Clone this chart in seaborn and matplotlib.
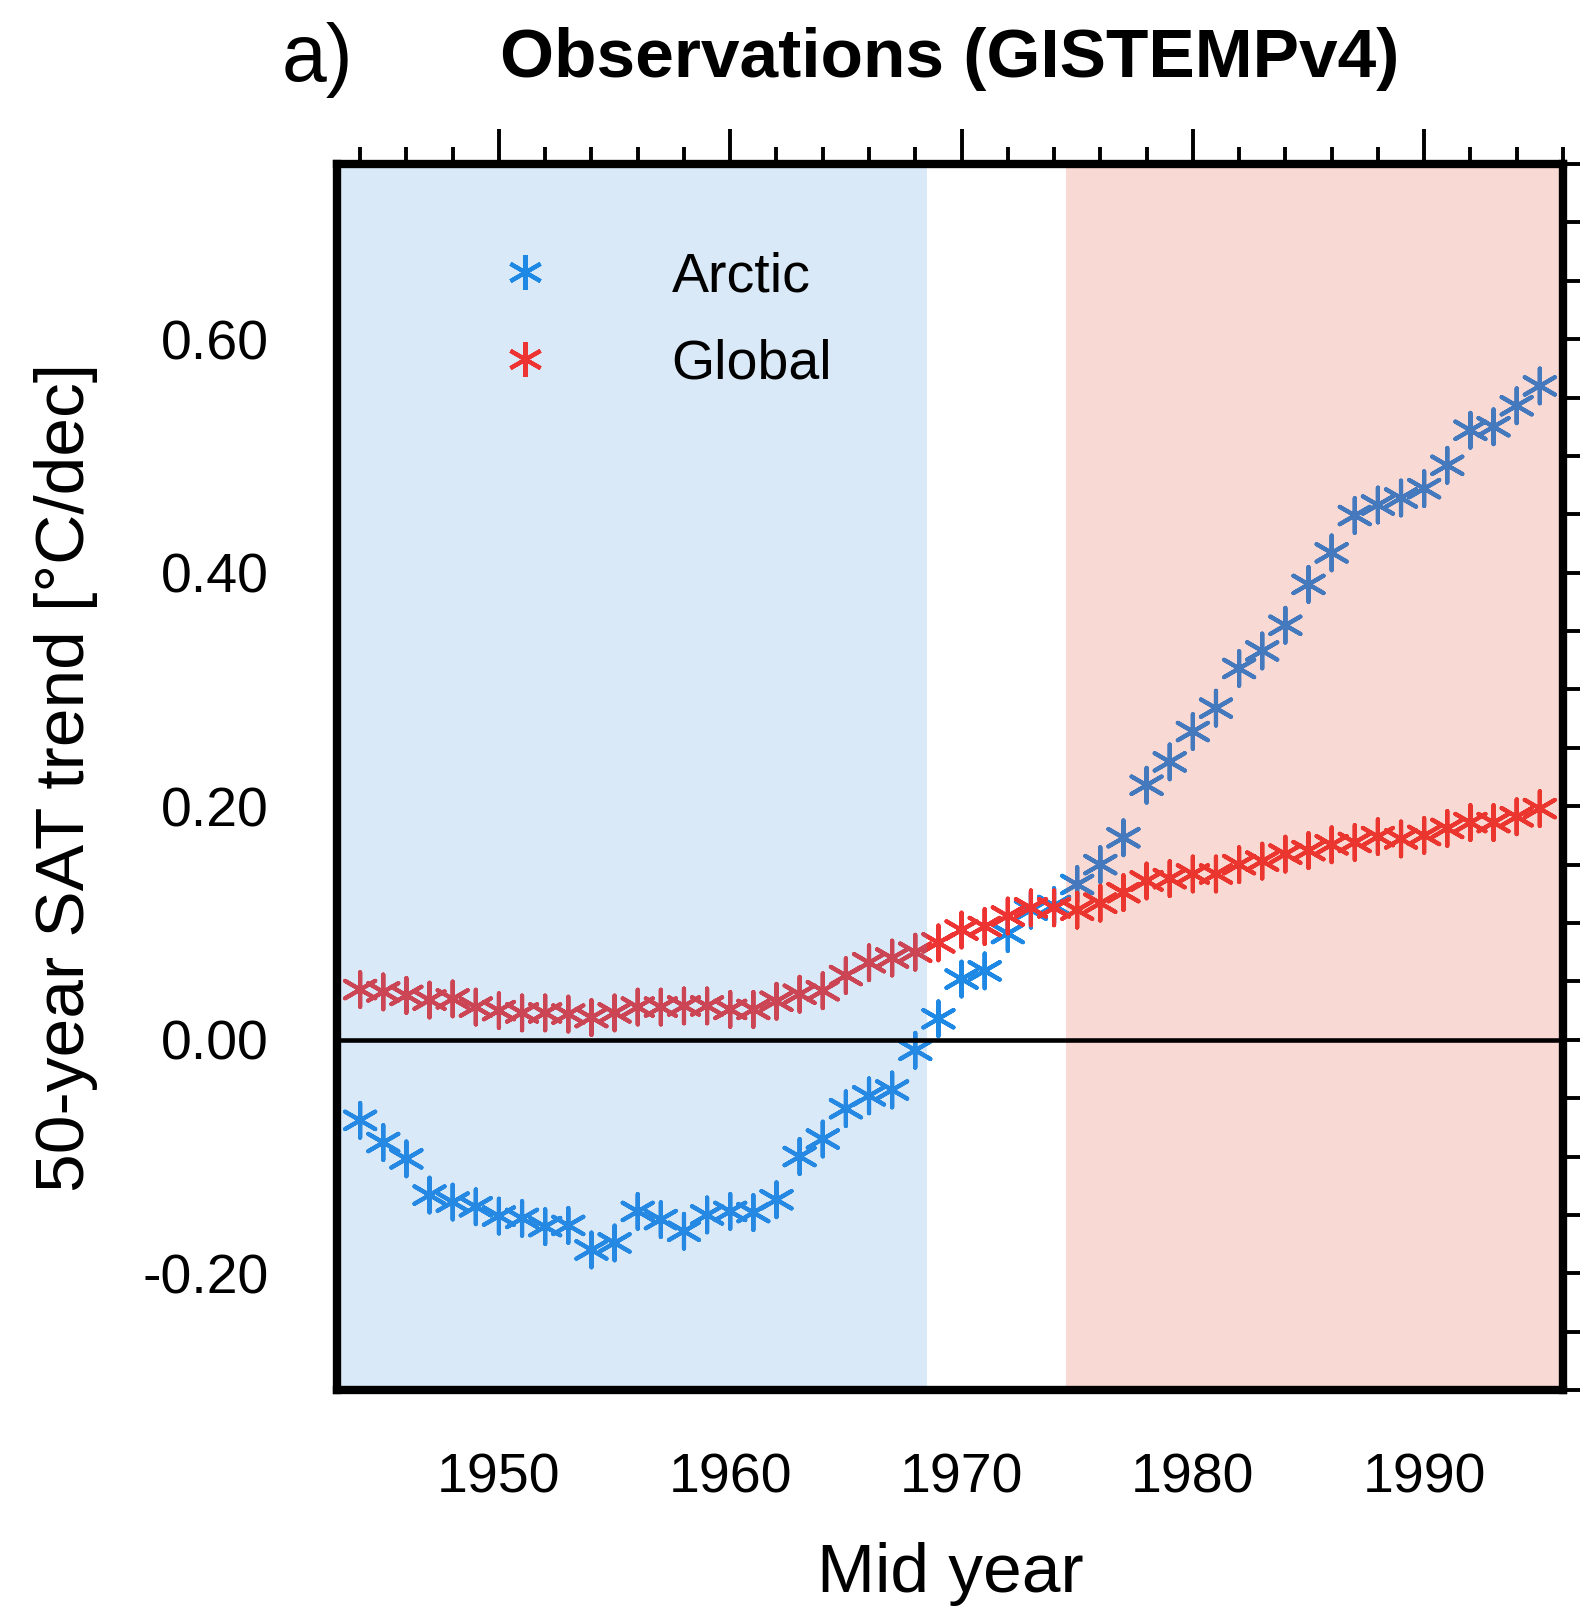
import numpy as np
import pandas as pd
import matplotlib
matplotlib.use("Agg")
import matplotlib.pyplot as plt
import seaborn as sns
from matplotlib.lines import Line2D
from matplotlib.ticker import FixedLocator, MultipleLocator, FormatStrFormatter

# ---------------- data ----------------
years = np.arange(1944, 1996)
arctic = [-0.069, -0.088, -0.102, -0.133, -0.139, -0.143, -0.151, -0.153, -0.160, -0.159,
          -0.180, -0.174, -0.147, -0.154, -0.164, -0.150, -0.147, -0.148, -0.137, -0.100,
          -0.085, -0.059, -0.048, -0.043, -0.009, 0.018, 0.052, 0.059, 0.091, 0.111,
          0.115, 0.133, 0.150, 0.173, 0.218, 0.238, 0.264, 0.284, 0.318, 0.333,
          0.355, 0.390, 0.417, 0.449, 0.458, 0.464, 0.472, 0.492, 0.522, 0.525,
          0.543, 0.560]
global_ = [0.043, 0.041, 0.038, 0.034, 0.035, 0.028, 0.025, 0.023, 0.023, 0.022,
           0.019, 0.023, 0.028, 0.028, 0.029, 0.029, 0.026, 0.026, 0.033, 0.039,
           0.042, 0.055, 0.066, 0.070, 0.075, 0.083, 0.094, 0.097, 0.106, 0.113,
           0.113, 0.111, 0.117, 0.126, 0.136, 0.138, 0.142, 0.142, 0.150, 0.153,
           0.159, 0.162, 0.167, 0.169, 0.174, 0.172, 0.175, 0.181, 0.186, 0.186,
           0.191, 0.198]
regions = ["Arctic", "Global"]
x_major = [1950, 1960, 1970, 1980, 1990]
y_major = [-0.2, 0.0, 0.2, 0.4, 0.6]
cold_period_end = 1968.5
warm_period_start = 1974.5
x_limits = (1943, 1996)
y_limits = (-0.3, 0.75)

# ---------------- style ----------------
sns.set_theme(style="white")
plt.rcParams["font.family"] = ["Liberation Sans", "DejaVu Sans"]
plt.rcParams["axes.unicode_minus"] = False

colors = {"Arctic": "#1E88E5", "Global": "#EE3333"}
shade_blue = (70 / 255, 145 / 255, 220 / 255)
shade_red = (225 / 255, 65 / 255, 35 / 255)
asterisk = (6, 2, 0)

df = pd.DataFrame({
    "year": np.concatenate([years, years]),
    "trend": arctic + global_,
    "region": [regions[0]] * len(years) + [regions[1]] * len(years),
})

fig = plt.figure(figsize=(15.8, 16.1), dpi=100)
ax = fig.add_axes([0.2133, 0.1366, 0.7759, 0.7615])

sns.scatterplot(data=df, x="year", y="trend", hue="region", palette=colors,
                marker=asterisk, s=25 ** 2, linewidth=3.0, legend=False,
                ax=ax, zorder=2)

ax.set_xlim(*x_limits)
ax.set_ylim(*y_limits)

ax.axvspan(x_limits[0], cold_period_end, color=shade_blue, alpha=0.2, lw=0, zorder=3)
ax.axvspan(warm_period_start, x_limits[1], color=shade_red, alpha=0.2, lw=0, zorder=3)
ax.axhline(0, color="black", lw=3.3, zorder=4)

# ticks
ax.xaxis.set_major_locator(FixedLocator(x_major))
ax.xaxis.set_minor_locator(MultipleLocator(2))
ax.yaxis.set_major_locator(FixedLocator(y_major))
ax.yaxis.set_minor_locator(MultipleLocator(0.05))
ax.yaxis.set_major_formatter(FormatStrFormatter("%.2f"))
ax.xaxis.set_major_formatter(FormatStrFormatter("%d"))
ax.tick_params(which="both", direction="out", top=True, right=True,
               width=2.8, color="black", labelcolor="black")
ax.tick_params(which="major", length=25)
ax.tick_params(which="minor", length=12)
ax.tick_params(axis="y", which="major", pad=24, labelsize=40)
ax.tick_params(axis="x", which="major", pad=20, labelsize=40)

for sp in ax.spines.values():
    sp.set_linewidth(6.0)
    sp.set_color("black")
    sp.set_zorder(6)

ax.set_xlabel("Mid year", fontsize=50, color="black")
ax.set_ylabel("50-year SAT trend [°C/dec]", fontsize=50, color="black")
ax.xaxis.set_label_coords(0.5, -0.124)
ax.yaxis.set_label_coords(-0.195, 0.5)

handles = [Line2D([], [], marker=asterisk, linestyle="", color=colors[r],
                  markersize=25, markeredgewidth=3.0) for r in regions]
ax.legend(handles, regions, loc="upper left", bbox_to_anchor=(0.1305, 0.929),
          frameon=False, fontsize=40, handlelength=1.0, handletextpad=2.14,
          labelspacing=0.63, borderpad=0, borderaxespad=0, labelcolor="black")

fig.text(950 / 1580, 1 - 77 / 1610, "Observations (GISTEMPv4)", ha="center",
         va="baseline", fontsize=50, fontweight="bold", color="black")
fig.text(282 / 1580, 1 - 81 / 1610, "a)", ha="left", va="baseline",
         fontsize=58, color="black")

fig.savefig("out.png", dpi=100, facecolor="white")
